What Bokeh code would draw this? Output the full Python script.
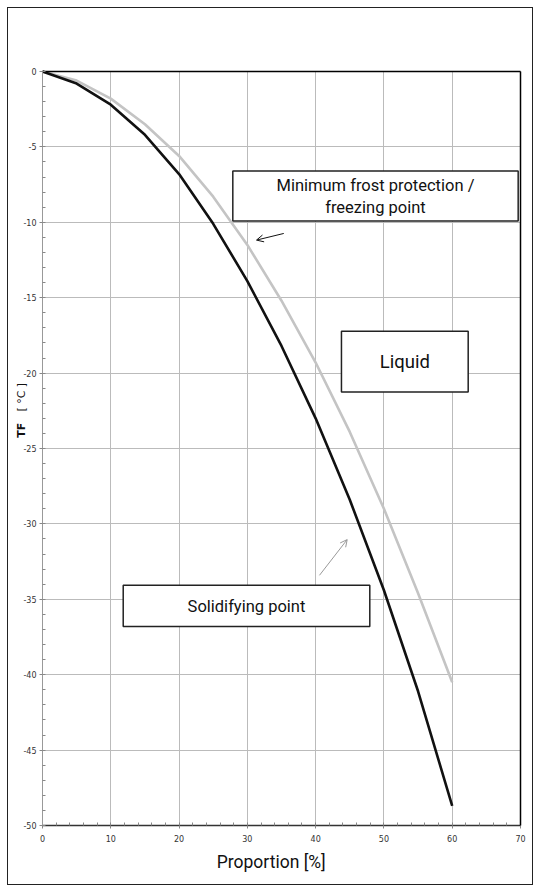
from bokeh.plotting import figure
from bokeh.models import (Range1d, SingleIntervalTicker, Label, Arrow, OpenHead,
                          PrintfTickFormatter, LinearAxis, FixedTicker)
from bokeh.embed import file_html
from bokeh.resources import INLINE

# ---- data ----
proportion = [0, 5, 10, 15, 20, 25, 30, 35, 40, 45, 50, 55, 60]
solidifying = [0, -0.8, -2.2, -4.2, -6.8, -10.1, -13.9, -18.2, -23.0, -28.4, -34.4, -41.1, -48.7]
freezing = [0, -0.6, -1.8, -3.5, -5.6, -8.3, -11.5, -15.2, -19.3, -23.9, -29.0, -34.6, -40.5]

x_min, x_max = 0, 70
y_min, y_max = -50, 0
x_ticks_interval = 10
y_ticks_interval = 5

LABEL_FONT = "Roboto"
TICK_FONT = "DejaVu Sans"

# ---- layout (canvas pixels) ----
W, H = 526, 878
B_LEFT, B_RIGHT, B_TOP, B_BOTTOM = 2, 2, 52, 0
AX_LEFT, AX_RIGHT = 34, 512      # where x_min / x_max sit on the canvas
AX_TOP, AX_BOTTOM = 63, 817      # where y_max / y_min sit on the canvas
ux = (x_max - x_min) / (AX_RIGHT - AX_LEFT)
uy = (y_max - y_min) / (AX_BOTTOM - AX_TOP)
x_lo = x_min - (AX_LEFT - B_LEFT) * ux
x_hi = x_max + ((W - B_RIGHT) - AX_RIGHT) * ux
y_hi = y_max + (AX_TOP - B_TOP) * uy
y_lo = y_min - ((H - B_BOTTOM) - AX_BOTTOM) * uy

p = figure(width=W, height=H, output_backend="svg", toolbar_location=None,
           x_range=Range1d(x_lo, x_hi), y_range=Range1d(y_lo, y_hi),
           min_border_left=B_LEFT, min_border_right=B_RIGHT,
           min_border_top=B_TOP, min_border_bottom=B_BOTTOM,
           styles={"border": "1.5px solid #222", "margin": "7px 0 0 7px"})
p.background_fill_color = "white"
p.border_fill_color = "white"
p.outline_line_color = None

# main axes, pinned inside the (widened) frame
p.xaxis.ticker = SingleIntervalTicker(interval=x_ticks_interval, num_minor_ticks=5)
p.yaxis.ticker = SingleIntervalTicker(interval=y_ticks_interval, num_minor_ticks=5)
p.xaxis.bounds = (x_min, x_max)
p.yaxis.bounds = (y_min, y_max)
p.xaxis.fixed_location = y_min
p.yaxis.fixed_location = x_min
for ax in (p.xaxis, p.yaxis):
    ax.formatter = PrintfTickFormatter(format="%d")
    ax.major_tick_line_color = "#888888"
    ax.minor_tick_line_color = "#888888"
    ax.major_tick_in = 0
    ax.major_tick_out = 3
    ax.minor_tick_in = 3
    ax.minor_tick_out = 0
    ax.major_label_text_font = TICK_FONT
    ax.major_label_text_font_size = "8px"
    ax.major_label_text_color = "#333333"
p.xaxis.axis_line_color = "#333333"
p.xaxis.axis_line_width = 1.3
p.yaxis.axis_line_color = "#999999"
p.xaxis.major_label_standoff = 6
p.yaxis.major_label_standoff = 3

# frame lines on top and right
for side, loc, bnds in (("above", y_max, (x_min, x_max)), ("right", x_max, (y_min, y_max))):
    ax = LinearAxis(ticker=FixedTicker(ticks=[], minor_ticks=[]), bounds=bnds,
                    fixed_location=loc, axis_line_color="black", axis_line_width=1.5,
                    major_tick_line_color=None, minor_tick_line_color=None,
                    major_label_text_font_size="0px")
    p.add_layout(ax, side)

# grid
p.xgrid.grid_line_color = "#bbbbbb"
p.ygrid.grid_line_color = "#bbbbbb"
p.xgrid.grid_line_width = 1
p.ygrid.grid_line_width = 1
p.xgrid.bounds = (x_min, x_max)
p.ygrid.bounds = (y_min, y_max)
_xg, _yg = p.xgrid[0], p.ygrid[0]
if "cross_bounds" in _yg.properties():
    _xg.cross_bounds = (y_min, y_max)
    _yg.cross_bounds = (x_min, x_max)
else:
    # white masks over the strips outside the data area
    p.quad(left=[x_lo, x_max, x_lo, x_lo], right=[x_min, x_hi, x_hi, x_hi],
           top=[y_hi, y_hi, y_hi, y_min], bottom=[y_lo, y_lo, y_max, y_lo],
           fill_color="white", line_color=None)

# curves
p.line(proportion, freezing, line_color="#c4c4c4", line_width=2.6)
p.line(proportion, solidifying, line_color="#111111", line_width=2.6)

# text boxes (layout in data units)
boxes = [
    dict(left=27.87, right=69.66, top=-6.60, bottom=-9.92),
    dict(left=43.78, right=62.34, top=-17.22, bottom=-21.25),
    dict(left=11.82, right=47.93, top=-34.07, bottom=-36.80),
]
p.quad(left=[b["left"] for b in boxes], right=[b["right"] for b in boxes],
       top=[b["top"] for b in boxes], bottom=[b["bottom"] for b in boxes],
       fill_color="white", line_color="#222222", line_width=1.5)

texts = [
    ("Minimum frost protection /", 48.76, -7.55, "16.5px"),
    ("freezing point", 48.76, -9.05, "16.5px"),
    ("Liquid", 53.06, -19.25, "18.5px"),
    ("Solidifying point", 29.87, -35.45, "16.5px"),
]
for t, x, y, fs in texts:
    p.add_layout(Label(x=x, y=y, text=t, text_align="center", text_baseline="middle",
                       text_font=LABEL_FONT, text_font_size=fs, text_color="#111111"))

# arrows
p.add_layout(Arrow(x_start=35.33, y_start=-10.74, x_end=31.34, y_end=-11.18,
                   line_color="#111111", line_width=1,
                   end=OpenHead(size=7, line_color="#111111", line_width=1)))
p.add_layout(Arrow(x_start=40.56, y_start=-33.41, x_end=44.62, y_end=-31.04,
                   line_color="#999999", line_width=1,
                   end=OpenHead(size=7, line_color="#999999", line_width=1)))

# axis titles (inside the widened frame)
p.add_layout(Label(x=33.5, y=-52.45, text="Proportion [%]", text_align="center",
                   text_baseline="middle", text_font=LABEL_FONT, text_font_size="17.5px",
                   text_color="#111111"))
p.add_layout(Label(x=-3.07, y=-23.79, text="TF", angle=1.5708, text_align="center",
                   text_baseline="middle", text_font=TICK_FONT, text_font_style="bold",
                   text_font_size="11px", text_color="#111111"))
p.add_layout(Label(x=-3.07, y=-21.6, text="[ °C ]", angle=1.5708, text_align="center",
                   text_baseline="middle", text_font=TICK_FONT,
                   text_font_size="11px", text_color="#111111"))

open("out.html", "w").write(file_html(p, INLINE))
